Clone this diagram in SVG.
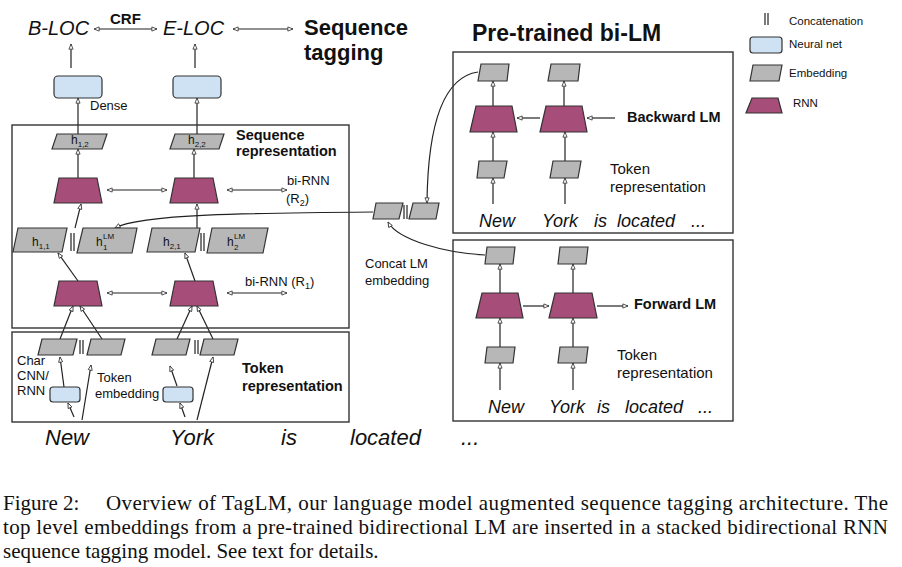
<svg xmlns="http://www.w3.org/2000/svg" width="902" height="567" viewBox="0 0 902 567">
<style>
text{font-family:"Liberation Sans",Arial,sans-serif;fill:#111}
.it{font-style:italic}
.b{font-weight:bold}
.emb{fill:#b7b7b7;stroke:#333;stroke-width:1.2}
.nn{fill:#cfe2f3;stroke:#333;stroke-width:1.2}
.rnn{fill:#a64d79;stroke:#333;stroke-width:1.2}
.box{fill:none;stroke:#333;stroke-width:1.4}
.ln{fill:none;stroke:#222;stroke-width:1.2}
.a{marker-end:url(#ah)}
.d{marker-end:url(#ah);marker-start:url(#ah)}
.cap{font-family:"Liberation Serif","Times New Roman",serif;font-size:21px}
.h{font-size:12px}
.s{font-size:8px}
</style>
<defs>
<marker id="ah" viewBox="0 0 8 8" refX="8" refY="4" markerWidth="6" markerHeight="5.5" markerUnits="userSpaceOnUse" orient="auto-start-reverse">
<path d="M0.5,1 L8,4 L0.5,7 z" fill="#fff" stroke="#333" stroke-width="1.2"/>
</marker>
</defs>

<g id="connectors">
<line class="ln d" x1="94" y1="29" x2="157" y2="29"/>
<line class="ln d" x1="233" y1="29" x2="293" y2="29"/>
<line class="ln a" x1="71" y1="68" x2="71" y2="44"/>
<line class="ln a" x1="195" y1="68" x2="195" y2="44"/>
<line class="ln a" x1="78" y1="134" x2="78" y2="98"/>
<line class="ln a" x1="197" y1="134" x2="197" y2="98"/>
<line class="ln a" x1="78" y1="178" x2="78" y2="149"/>
<line class="ln a" x1="194" y1="178" x2="194" y2="149"/>
<line class="ln d" x1="107" y1="190" x2="167" y2="190"/>
<line class="ln d" x1="227" y1="190" x2="287" y2="190"/>
<line class="ln a" x1="75" y1="228" x2="81" y2="204"/>
<line class="ln a" x1="197" y1="228" x2="197" y2="204"/>
<path class="ln a" d="M373,212 C250,213 140,214 115,228"/>
<line class="ln a" x1="78" y1="281" x2="58" y2="253"/>
<line class="ln a" x1="195" y1="281" x2="185" y2="253"/>
<line class="ln d" x1="107" y1="293" x2="167" y2="293"/>
<line class="ln d" x1="227" y1="293" x2="287" y2="293"/>
<line class="ln a" x1="60" y1="339" x2="73" y2="306"/>
<line class="ln a" x1="102" y1="339" x2="80" y2="306"/>
<line class="ln a" x1="177" y1="339" x2="192" y2="306"/>
<line class="ln a" x1="213" y1="339" x2="197" y2="306"/>
<line class="ln a" x1="64" y1="387" x2="60" y2="357"/>
<line class="ln a" x1="74" y1="417" x2="68" y2="403"/>
<line class="ln a" x1="82" y1="420" x2="91" y2="365"/>
<line class="ln a" x1="177" y1="386" x2="170" y2="366"/>
<line class="ln a" x1="185" y1="417" x2="180" y2="403"/>
<line class="ln a" x1="197" y1="420" x2="213" y2="357"/>
<path class="ln a" d="M478,72 C450,76 428,110 427,203"/>
<path class="ln a" d="M485,255 C445,253 398,240 388,222"/>
<line class="ln a" x1="493" y1="106" x2="493" y2="81"/>
<line class="ln a" x1="564" y1="106" x2="564" y2="81"/>
<line class="ln a" x1="540" y1="118" x2="517" y2="118"/>
<line class="ln a" x1="615" y1="118" x2="587" y2="118"/>
<line class="ln a" x1="493" y1="161" x2="493" y2="132"/>
<line class="ln a" x1="565" y1="161" x2="565" y2="132"/>
<line class="ln a" x1="493" y1="204" x2="493" y2="178"/>
<line class="ln a" x1="565" y1="204" x2="565" y2="178"/>
<line class="ln a" x1="500" y1="293" x2="500" y2="264"/>
<line class="ln a" x1="573" y1="293" x2="573" y2="264"/>
<line class="ln a" x1="523" y1="306" x2="549" y2="306"/>
<line class="ln a" x1="597" y1="306" x2="628" y2="306"/>
<line class="ln a" x1="500" y1="347" x2="500" y2="318"/>
<line class="ln a" x1="573" y1="347" x2="573" y2="318"/>
<line class="ln a" x1="500" y1="390" x2="500" y2="363"/>
<line class="ln a" x1="573" y1="390" x2="573" y2="363"/>
</g>

<g id="top-labels">
<text class="it" x="28" y="35" font-size="20">B-LOC</text>
<text class="b" x="110" y="24" font-size="15">CRF</text>
<text class="it" x="163" y="35" font-size="20">E-LOC</text>
<text class="b" x="304" y="35" font-size="22">Sequence</text>
<text class="b" x="304" y="60" font-size="22">tagging</text>
<text x="90" y="110" font-size="13">Dense</text>
</g>

<g id="dense">
<rect class="nn" x="54" y="76" width="48" height="22" rx="4"/>
<rect class="nn" x="173" y="76" width="48" height="22" rx="4"/>
</g>

<g id="sequence-representation">
<rect class="box" x="12" y="125" width="337" height="203"/>
<text class="b" x="236" y="140" font-size="14.5">Sequence</text>
<text class="b" x="236" y="156" font-size="14.5">representation</text>
<polygon class="emb" points="57,134 107,134 102,149 52,149"/>
<text class="h" x="71" y="144">h<tspan class="s" dy="3">1,2</tspan></text>
<polygon class="emb" points="175,134 224,134 219,149 170,149"/>
<text class="h" x="188" y="144">h<tspan class="s" dy="3">2,2</tspan></text>
<polygon class="rnn" points="59,178 97,178 102,203 54,203"/>
<polygon class="rnn" points="175,178 213,178 218,203 170,203"/>
<text x="287" y="185" font-size="13">bi-RNN</text>
<text x="286" y="203" font-size="13">(R<tspan font-size="9" dy="3">2</tspan><tspan dy="-3">)</tspan></text>
<polygon class="emb" points="18,228 67,228 62,252 13,252"/>
<text class="h" x="32" y="246">h<tspan class="s" dy="3">1,1</tspan></text>
<line class="ln" x1="71" y1="233" x2="71" y2="251"/>
<line class="ln" x1="74" y1="233" x2="74" y2="251"/>
<polygon class="emb" points="83,228 137,228 132,253 77,253"/>
<text class="h" x="96" y="246">h</text>
<text class="s" x="103" y="239" font-size="7">LM</text>
<text class="s" x="103" y="250">1</text>
<polygon class="emb" points="152,228 200,228 195,252 147,252"/>
<text class="h" x="163" y="246">h<tspan class="s" dy="3">2,1</tspan></text>
<line class="ln" x1="201" y1="233" x2="201" y2="251"/>
<line class="ln" x1="204" y1="233" x2="204" y2="251"/>
<polygon class="emb" points="212,228 268,228 263,253 207,253"/>
<text class="h" x="227" y="246">h</text>
<text class="s" x="234" y="239" font-size="7">LM</text>
<text class="s" x="234" y="250">2</text>
<polygon class="rnn" points="59,281 97,281 102,306 54,306"/>
<polygon class="rnn" points="175,281 213,281 218,306 170,306"/>
<text x="245" y="286" font-size="13">bi-RNN (R<tspan font-size="9" dy="3">1</tspan><tspan dy="-3">)</tspan></text>
</g>

<g id="token-representation">
<rect class="box" x="12" y="332" width="337" height="90"/>
<polygon class="emb" points="42,339 77,339 73,355 38,355"/>
<line class="ln" x1="80" y1="340" x2="80" y2="354"/>
<line class="ln" x1="83" y1="340" x2="83" y2="354"/>
<polygon class="emb" points="91,339 125,339 121,355 87,355"/>
<polygon class="emb" points="156,339 190,339 186,355 152,355"/>
<line class="ln" x1="195" y1="340" x2="195" y2="354"/>
<line class="ln" x1="198" y1="340" x2="198" y2="354"/>
<polygon class="emb" points="204,339 238,339 234,355 200,355"/>
<rect class="nn" x="50" y="387" width="30" height="15" rx="3"/>
<rect class="nn" x="163" y="387" width="30" height="15" rx="3"/>
<text x="17" y="365" font-size="13">Char</text>
<text x="17" y="380" font-size="13">CNN/</text>
<text x="17" y="395" font-size="13">RNN</text>
<text x="97" y="382" font-size="13">Token</text>
<text x="95" y="398" font-size="13">embedding</text>
<text class="b" x="242" y="373" font-size="14.5">Token</text>
<text class="b" x="242" y="391" font-size="14.5">representation</text>
</g>

<g id="words">
<text class="it" x="45" y="445" font-size="22">New</text>
<text class="it" x="170" y="445" font-size="22">York</text>
<text class="it" x="281" y="445" font-size="22">is</text>
<text class="it" x="350" y="445" font-size="22">located</text>
<text class="it" x="461" y="445" font-size="22">...</text>
</g>

<g id="concat">
<polygon class="emb" points="376,203 403,203 399,219 373,219"/>
<line class="ln" x1="404" y1="205" x2="404" y2="219"/>
<line class="ln" x1="407" y1="205" x2="407" y2="219"/>
<polygon class="emb" points="413,203 439,203 436,219 409,219"/>
<text x="365" y="268" font-size="13">Concat LM</text>
<text x="365" y="285" font-size="13">embedding</text>
</g>

<g id="pretrained-title">
<text class="b" x="472" y="41" font-size="23">Pre-trained bi-LM</text>
</g>

<g id="backward-lm">
<rect class="box" x="453" y="52" width="280" height="181"/>
<polygon class="emb" points="481,64 509,64 507,81 478,81"/>
<polygon class="emb" points="551,64 580,64 578,81 548,81"/>
<polygon class="rnn" points="476,106 512,106 517,132 470,132"/>
<polygon class="rnn" points="546,106 582,106 587,132 540,132"/>
<polygon class="emb" points="479,161 507,161 504,178 477,178"/>
<polygon class="emb" points="553,161 581,161 578,178 550,178"/>
<text class="b" x="627" y="122" font-size="14.5">Backward LM</text>
<text x="610" y="174" font-size="15">Token</text>
<text x="610" y="192" font-size="15">representation</text>
<text class="it" x="479" y="227" font-size="18">New</text>
<text class="it" x="542" y="227" font-size="18">York</text>
<text class="it" x="594" y="227" font-size="18">is</text>
<text class="it" x="617" y="227" font-size="18">located</text>
<text class="it" x="691" y="227" font-size="18">...</text>
</g>

<g id="forward-lm">
<rect class="box" x="453" y="240" width="280" height="181"/>
<polygon class="emb" points="487,247 515,247 513,264 485,264"/>
<polygon class="emb" points="560,247 588,247 586,264 558,264"/>
<polygon class="rnn" points="482,293 518,293 523,318 476,318"/>
<polygon class="rnn" points="555,293 592,293 597,318 549,318"/>
<polygon class="emb" points="487,347 515,347 513,363 485,363"/>
<polygon class="emb" points="560,347 588,347 586,363 558,363"/>
<text class="b" x="634" y="309" font-size="14.5">Forward LM</text>
<text x="617" y="360" font-size="15">Token</text>
<text x="617" y="378" font-size="15">representation</text>
<text class="it" x="488" y="413" font-size="18">New</text>
<text class="it" x="549" y="413" font-size="18">York</text>
<text class="it" x="597" y="413" font-size="18">is</text>
<text class="it" x="625" y="413" font-size="18">located</text>
<text class="it" x="698" y="413" font-size="18">...</text>
</g>

<g id="legend">
<line class="ln" x1="765" y1="13" x2="765" y2="25"/>
<line class="ln" x1="768" y1="13" x2="768" y2="25"/>
<text x="789" y="25" font-size="11.5">Concatenation</text>
<rect class="nn" x="750" y="37" width="32" height="16" rx="3"/>
<text x="789" y="48" font-size="11.5">Neural net</text>
<polygon class="emb" points="753,65 782,65 779,81 750,81"/>
<text x="789" y="77" font-size="11.5">Embedding</text>
<polygon class="rnn" points="752,98 778,98 782,113 746,113"/>
<text x="793" y="107" font-size="11.5">RNN</text>
</g>

<g id="caption">
<text class="cap" x="3" y="510">Figure 2:</text>
<text class="cap" x="106" y="510" textLength="782" lengthAdjust="spacing">Overview of TagLM, our language model augmented sequence tagging architecture.  The</text>
<text class="cap" x="3" y="534" textLength="885" lengthAdjust="spacing">top level embeddings from a pre-trained bidirectional LM are inserted in a stacked bidirectional RNN</text>
<text class="cap" x="3" y="558">sequence tagging model. See text for details.</text>
</g>
</svg>
